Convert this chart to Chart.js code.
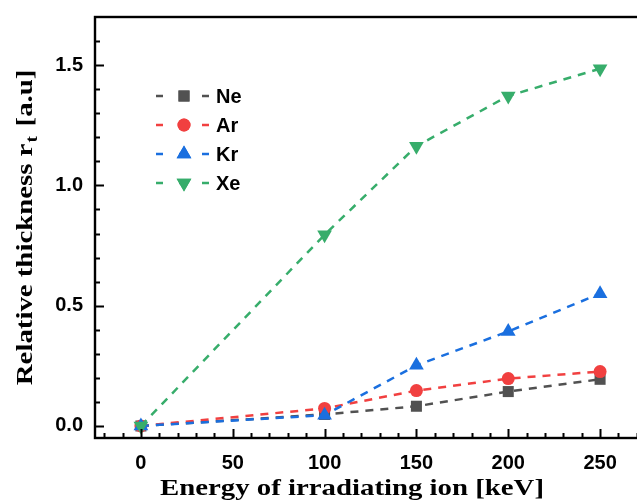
<!DOCTYPE html>
<html>
<head>
<meta charset="utf-8">
<script src="https://cdn.jsdelivr.net/npm/chart.js@4.4.1/dist/chart.umd.min.js"></script>
<style>
  html, body { margin:0; padding:0; background:#fff; overflow:hidden; }
  canvas { display:block; }
</style>
</head>
<body>
<canvas id="chart" width="660" height="500"></canvas>
<script>
/* data */
const energies = [0, 100, 150, 200, 250];
const ne = [0, 0.048, 0.082, 0.143, 0.194];
const ar = [0, 0.073, 0.147, 0.197, 0.226];
const kr = [0, 0.045, 0.252, 0.393, 0.550];
const xe = [0, 0.795, 1.163, 1.372, 1.485];
const seriesNames = ['Ne', 'Ar', 'Kr', 'Xe'];
const xTicks = [0, 50, 100, 150, 200, 250];
const yTicks = [0, 0.5, 1.0, 1.5];

const COLORS = { ne:'#515151', ar:'#F14040', kr:'#1A6FDF', xe:'#37AD6B' };
const SANS  = '"Liberation Sans", Arial, sans-serif';
const SERIF = '"Liberation Serif", "Times New Roman", serif';
const STRETCH = 1.2;   // titles in the figure are drawn a bit wide

const pts = ys => energies.map((x, i) => ({ x, y: ys[i] }));

function ds(label, ys, color, style, radius, rot, order) {
  return {
    label, data: pts(ys), order,
    borderColor: color, backgroundColor: color,
    borderWidth: 2.5, borderDash: [8, 7],
    pointStyle: style, pointRadius: radius, pointRotation: rot,
    pointBackgroundColor: color, pointBorderWidth: 0,
    tension: 0, fill: false,
  };
}

/* ----------------------------------------------------------
   Frame, inward ticks, axis titles and the legend
   ---------------------------------------------------------- */
const decor = {
  id: 'decor',
  afterDraw(chart) {
    const { ctx, chartArea: a, scales: { x, y } } = chart;
    ctx.save();
    ctx.strokeStyle = '#000';
    ctx.lineWidth = 2.4;
    ctx.strokeRect(a.left, a.top, a.right - a.left, a.bottom - a.top);

    ctx.lineWidth = 2;
    ctx.beginPath();
    for (let v = -20; v <= 270; v += 10) {
      const px = Math.round(x.getPixelForValue(v)) + 0.5;
      const len = v % 50 === 0 ? 9 : 5;
      ctx.moveTo(px, a.bottom); ctx.lineTo(px, a.bottom - len);
    }
    for (let i = 0; i <= 16; i++) {
      const py = Math.round(y.getPixelForValue(i / 10)) + 0.5;
      const len = i % 5 === 0 ? 9 : 5;
      ctx.moveTo(a.left, py); ctx.lineTo(a.left + len, py);
    }
    ctx.stroke();

    // x title
    ctx.save();
    ctx.fillStyle = '#000';
    ctx.font = `bold 24px ${SERIF}`;
    ctx.textAlign = 'center';
    ctx.textBaseline = 'alphabetic';
    ctx.translate(352, 495);
    ctx.scale(STRETCH, 1);
    ctx.fillText('Energy of irradiating ion [keV]', 0, 0);
    ctx.restore();

    // y title with subscript
    ctx.save();
    ctx.fillStyle = '#000';
    ctx.translate(26, 228);
    ctx.rotate(-Math.PI / 2);
    ctx.scale(STRETCH, 1);
    const p1 = 'Relative thickness r', p2 = 't', p3 = ' [a.u]';
    ctx.font = `bold 24px ${SERIF}`;
    const w1 = ctx.measureText(p1).width, w3 = ctx.measureText(p3).width;
    ctx.font = `bold 16px ${SERIF}`;
    const w2 = ctx.measureText(p2).width + 2;
    let cx = -(w1 + w2 + w3) / 2;
    ctx.textAlign = 'left';
    ctx.textBaseline = 'middle';
    ctx.font = `bold 24px ${SERIF}`;
    ctx.fillText(p1, cx, 0); cx += w1 + 1;
    ctx.font = `bold 16px ${SERIF}`;
    ctx.fillText(p2, cx, 7); cx += w2;
    ctx.font = `bold 24px ${SERIF}`;
    ctx.fillText(p3, cx, 0);
    ctx.restore();

    // legend
    chart.data.datasets.forEach((d, i) => {
      const ly = 96 + i * 29;
      ctx.save();
      ctx.strokeStyle = d.borderColor;
      ctx.lineWidth = 2.5;
      ctx.setLineDash([7, 16]);
      ctx.beginPath(); ctx.moveTo(156, ly); ctx.lineTo(212, ly); ctx.stroke();
      ctx.setLineDash([]);
      ctx.fillStyle = d.backgroundColor;
      Chart.helpers.drawPoint(ctx, { pointStyle: d.pointStyle, radius: d.pointRadius, rotation: d.pointRotation, borderWidth: 0 }, 184, ly);
      ctx.fill();
      ctx.fillStyle = '#000';
      ctx.font = `bold 20px ${SANS}`;
      ctx.textAlign = 'left';
      ctx.textBaseline = 'middle';
      ctx.fillText(d.label, 216, ly + 1);
      ctx.restore();
    });
    ctx.restore();
  }
};

new Chart(document.getElementById('chart'), {
  type: 'line',
  data: {
    datasets: [
      ds(seriesNames[0], ne, COLORS.ne, 'rect', 7.8, 0, 4),
      ds(seriesNames[1], ar, COLORS.ar, 'circle', 6.5, 0, 3),
      ds(seriesNames[2], kr, COLORS.kr, 'triangle', 8.5, 0, 2),
      ds(seriesNames[3], xe, COLORS.xe, 'triangle', 8.5, 180, 1),
    ],
  },
  options: {
    responsive: false, animation: false, devicePixelRatio: 1,
    layout: { autoPadding: false, padding: { top: 17, right: 14, left: 0, bottom: 0 } },
    plugins: { legend: { display: false }, tooltip: { enabled: false } },
    scales: {
      x: {
        type: 'linear', min: -25, max: 275,
        afterBuildTicks: s => { s.ticks = xTicks.map(v => ({ value: v })); },
        afterFit: s => { s.height = 62; s.paddingLeft = 0; s.paddingRight = 0; },
        grid: { display: false, drawTicks: false }, border: { display: false },
        ticks: { color: '#000', padding: 13, maxRotation: 0, font: { family: SANS, size: 20, weight: 'bold' } },
      },
      y: {
        min: -0.05, max: 1.7,
        afterBuildTicks: s => { s.ticks = yTicks.map(v => ({ value: v })); },
        afterFit: s => { s.width = 95; s.paddingTop = 0; s.paddingBottom = 0; },
        grid: { display: false, drawTicks: false }, border: { display: false },
        ticks: { color: '#000', padding: 12, callback: v => Number(v).toFixed(1), font: { family: SANS, size: 20, weight: 'bold' } },
      },
    },
  },
  plugins: [decor],
});
</script>
</body>
</html>
